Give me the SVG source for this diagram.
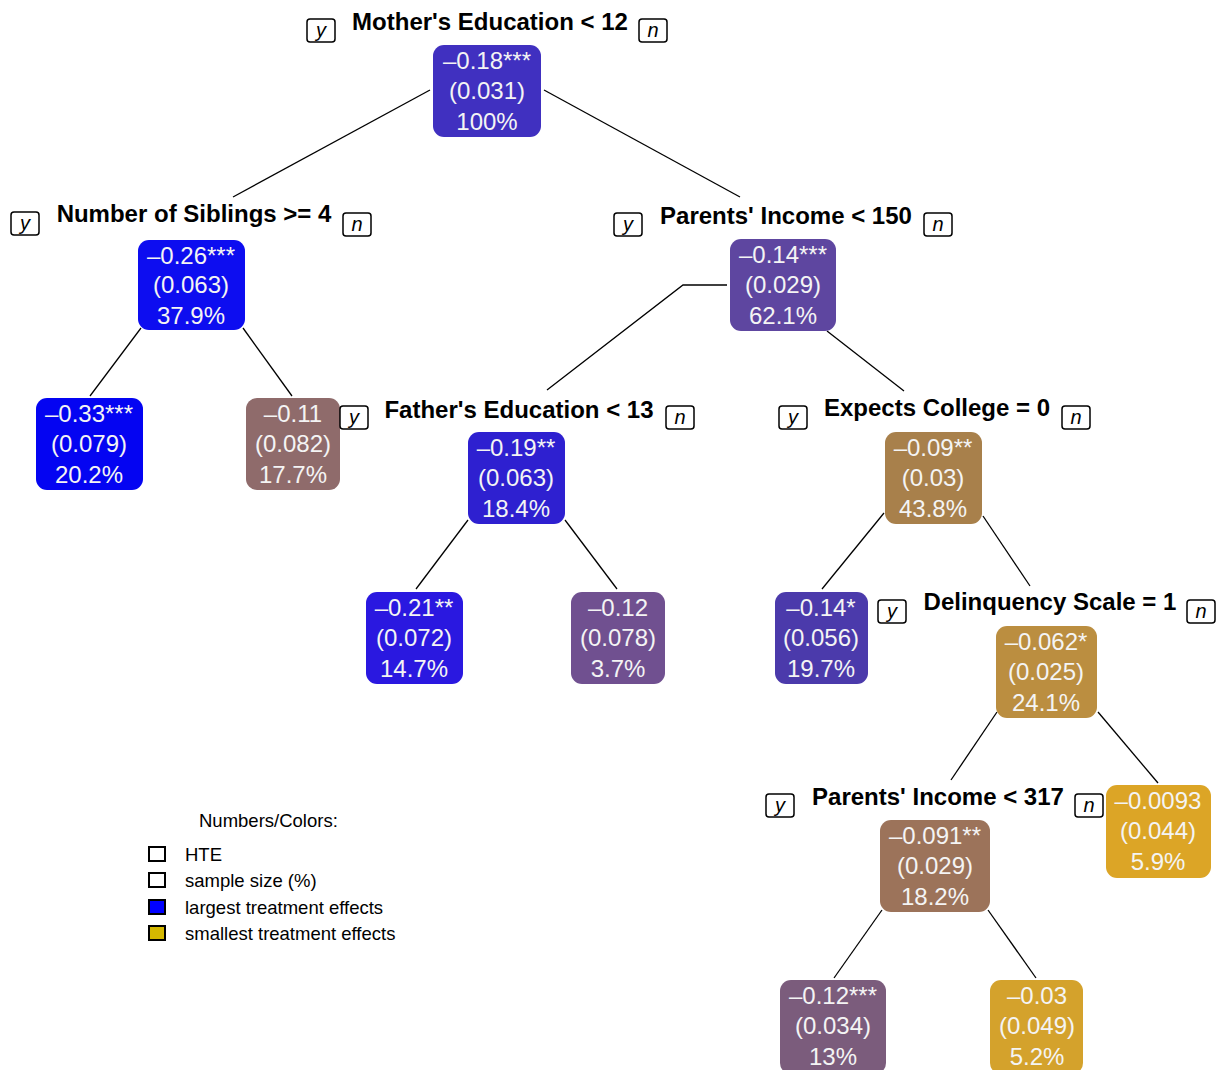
<svg xmlns="http://www.w3.org/2000/svg" width="1216" height="1070" viewBox="0 0 1216 1070">
<style>
.bg{fill:#ffffff}
.box{stroke:none}
.nt{font-family:"Liberation Sans",Arial,sans-serif;font-size:24px;fill:#f4f4f4;text-anchor:middle}
.lbl{font-family:"Liberation Sans",Arial,sans-serif;font-size:24px;font-weight:bold;fill:#000;text-anchor:middle}
.yn{fill:#fff;stroke:#000;stroke-width:1.5}
.ynt{font-family:"Liberation Sans",Arial,sans-serif;font-size:20px;font-style:italic;fill:#000;text-anchor:middle}
.edge{stroke:#000;stroke-width:1.3;fill:none}
.lg{font-family:"Liberation Sans",Arial,sans-serif;font-size:18.5px;fill:#000}
.lsq{stroke:#000;stroke-width:2}
</style>
<rect class="bg" x="0" y="0" width="1216" height="1070"/>
<g id="connectors">
<line class="edge" x1="430" y1="90" x2="233" y2="197"/>
<line class="edge" x1="544" y1="90" x2="740" y2="197"/>
<line class="edge" x1="141" y1="328" x2="90" y2="396"/>
<line class="edge" x1="243" y1="328" x2="292" y2="396"/>
<polyline class="edge" points="727,285 683,285 547,390"/>
<line class="edge" x1="827" y1="331" x2="904" y2="391"/>
<line class="edge" x1="468" y1="520" x2="416" y2="589"/>
<line class="edge" x1="565" y1="520" x2="617" y2="589"/>
<line class="edge" x1="884" y1="513" x2="822" y2="589"/>
<line class="edge" x1="983" y1="516" x2="1030" y2="586"/>
<line class="edge" x1="997" y1="712" x2="951" y2="780"/>
<line class="edge" x1="1098" y1="712" x2="1158" y2="783"/>
<line class="edge" x1="882" y1="910" x2="834" y2="978"/>
<line class="edge" x1="988" y1="910" x2="1036" y2="978"/>
</g>
<g id="node-root">
<text class="lbl" x="490" y="30">Mother's Education &lt; 12</text>
<rect class="yn" x="307" y="19" width="28" height="23" rx="3"/><text class="ynt" x="321" y="37">y</text>
<rect class="yn" x="639" y="19" width="28" height="23" rx="3"/><text class="ynt" x="653" y="37">n</text>
<rect class="box" x="433" y="45" width="108" height="92" rx="11" fill="#4030c0"/>
<text class="nt" x="487" y="69">–0.18***</text><text class="nt" x="487" y="99">(0.031)</text><text class="nt" x="487" y="130">100%</text>
</g>
<g id="node-siblings">
<text class="lbl" x="194" y="222">Number of Siblings &gt;= 4</text>
<rect class="yn" x="11" y="212" width="28" height="23" rx="3"/><text class="ynt" x="25" y="230">y</text>
<rect class="yn" x="343" y="213" width="28" height="23" rx="3"/><text class="ynt" x="357" y="231">n</text>
<rect class="box" x="138" y="240" width="107" height="90" rx="11" fill="#0d0df0"/>
<text class="nt" x="191" y="264">–0.26***</text><text class="nt" x="191" y="293">(0.063)</text><text class="nt" x="191" y="324">37.9%</text>
</g>
<g id="leaf-033">
<rect class="box" x="36" y="398" width="107" height="92" rx="11" fill="#0404f2"/>
<text class="nt" x="89" y="422">–0.33***</text><text class="nt" x="89" y="452">(0.079)</text><text class="nt" x="89" y="483">20.2%</text>
</g>
<g id="leaf-011">
<rect class="box" x="246" y="398" width="94" height="92" rx="11" fill="#8f6b6b"/>
<text class="nt" x="293" y="422">–0.11</text><text class="nt" x="293" y="452">(0.082)</text><text class="nt" x="293" y="483">17.7%</text>
</g>
<g id="node-income150">
<text class="lbl" x="786" y="224">Parents' Income &lt; 150</text>
<rect class="yn" x="614" y="213" width="28" height="23" rx="3"/><text class="ynt" x="628" y="231">y</text>
<rect class="yn" x="924" y="213" width="28" height="23" rx="3"/><text class="ynt" x="938" y="231">n</text>
<rect class="box" x="730" y="239" width="106" height="92" rx="11" fill="#5e46a0"/>
<text class="nt" x="783" y="263">–0.14***</text><text class="nt" x="783" y="293">(0.029)</text><text class="nt" x="783" y="324">62.1%</text>
</g>
<g id="node-father">
<text class="lbl" x="519" y="418">Father's Education &lt; 13</text>
<rect class="yn" x="340" y="406" width="28" height="23" rx="3"/><text class="ynt" x="354" y="424">y</text>
<rect class="yn" x="666" y="406" width="28" height="23" rx="3"/><text class="ynt" x="680" y="424">n</text>
<rect class="box" x="468" y="432" width="97" height="92" rx="11" fill="#2e20d0"/>
<text class="nt" x="516" y="456">–0.19**</text><text class="nt" x="516" y="486">(0.063)</text><text class="nt" x="516" y="517">18.4%</text>
</g>
<g id="leaf-021">
<rect class="box" x="366" y="592" width="97" height="92" rx="11" fill="#2a18e0"/>
<text class="nt" x="414" y="616">–0.21**</text><text class="nt" x="414" y="646">(0.072)</text><text class="nt" x="414" y="677">14.7%</text>
</g>
<g id="leaf-012a">
<rect class="box" x="571" y="592" width="94" height="92" rx="11" fill="#705090"/>
<text class="nt" x="618" y="616">–0.12</text><text class="nt" x="618" y="646">(0.078)</text><text class="nt" x="618" y="677">3.7%</text>
</g>
<g id="node-college">
<text class="lbl" x="937" y="416">Expects College = 0</text>
<rect class="yn" x="779" y="406" width="28" height="23" rx="3"/><text class="ynt" x="793" y="424">y</text>
<rect class="yn" x="1062" y="406" width="28" height="23" rx="3"/><text class="ynt" x="1076" y="424">n</text>
<rect class="box" x="885" y="432" width="97" height="92" rx="11" fill="#a8804b"/>
<text class="nt" x="933" y="456">–0.09**</text><text class="nt" x="933" y="486">(0.03)</text><text class="nt" x="933" y="517">43.8%</text>
</g>
<g id="leaf-014">
<rect class="box" x="775" y="592" width="93" height="92" rx="11" fill="#4b3aab"/>
<text class="nt" x="821" y="616">–0.14*</text><text class="nt" x="821" y="646">(0.056)</text><text class="nt" x="821" y="677">19.7%</text>
</g>
<g id="node-delinquency">
<text class="lbl" x="1050" y="610">Delinquency Scale = 1</text>
<rect class="yn" x="878" y="600" width="28" height="23" rx="3"/><text class="ynt" x="892" y="618">y</text>
<rect class="yn" x="1187" y="600" width="28" height="23" rx="3"/><text class="ynt" x="1201" y="618">n</text>
<rect class="box" x="996" y="626" width="101" height="92" rx="11" fill="#bb8e40"/>
<text class="nt" x="1046" y="650">–0.062*</text><text class="nt" x="1046" y="680">(0.025)</text><text class="nt" x="1046" y="711">24.1%</text>
</g>
<g id="node-income317">
<text class="lbl" x="938" y="805">Parents' Income &lt; 317</text>
<rect class="yn" x="766" y="794" width="28" height="23" rx="3"/><text class="ynt" x="780" y="812">y</text>
<rect class="yn" x="1075" y="794" width="28" height="23" rx="3"/><text class="ynt" x="1089" y="812">n</text>
<rect class="box" x="880" y="820" width="110" height="92" rx="11" fill="#9c735a"/>
<text class="nt" x="935" y="844">–0.091**</text><text class="nt" x="935" y="874">(0.029)</text><text class="nt" x="935" y="905">18.2%</text>
</g>
<g id="leaf-00093">
<rect class="box" x="1106" y="785" width="105" height="93" rx="11" fill="#dca526"/>
<text class="nt" x="1158" y="809">–0.0093</text><text class="nt" x="1158" y="839">(0.044)</text><text class="nt" x="1158" y="870">5.9%</text>
</g>
<g id="leaf-012b">
<rect class="box" x="780" y="980" width="106" height="94" rx="11" fill="#7b5c7c"/>
<text class="nt" x="833" y="1004">–0.12***</text><text class="nt" x="833" y="1034">(0.034)</text><text class="nt" x="833" y="1065">13%</text>
</g>
<g id="leaf-003">
<rect class="box" x="990" y="980" width="93" height="94" rx="11" fill="#d4a22c"/>
<text class="nt" x="1037" y="1004">–0.03</text><text class="nt" x="1037" y="1034">(0.049)</text><text class="nt" x="1037" y="1065">5.2%</text>
</g>
<g id="legend">
<text class="lg" x="199" y="827">Numbers/Colors:</text>
<rect class="lsq" x="149" y="847" width="16" height="14" fill="#fff"/>
<text class="lg" x="185" y="861">HTE</text>
<rect class="lsq" x="149" y="873" width="16" height="14" fill="#fff"/>
<text class="lg" x="185" y="887">sample size (%)</text>
<rect class="lsq" x="149" y="900" width="16" height="14" fill="#0000ff"/>
<text class="lg" x="185" y="914">largest treatment effects</text>
<rect class="lsq" x="149" y="926" width="16" height="14" fill="#d4b800"/>
<text class="lg" x="185" y="940">smallest treatment effects</text>
</g>
</svg>
